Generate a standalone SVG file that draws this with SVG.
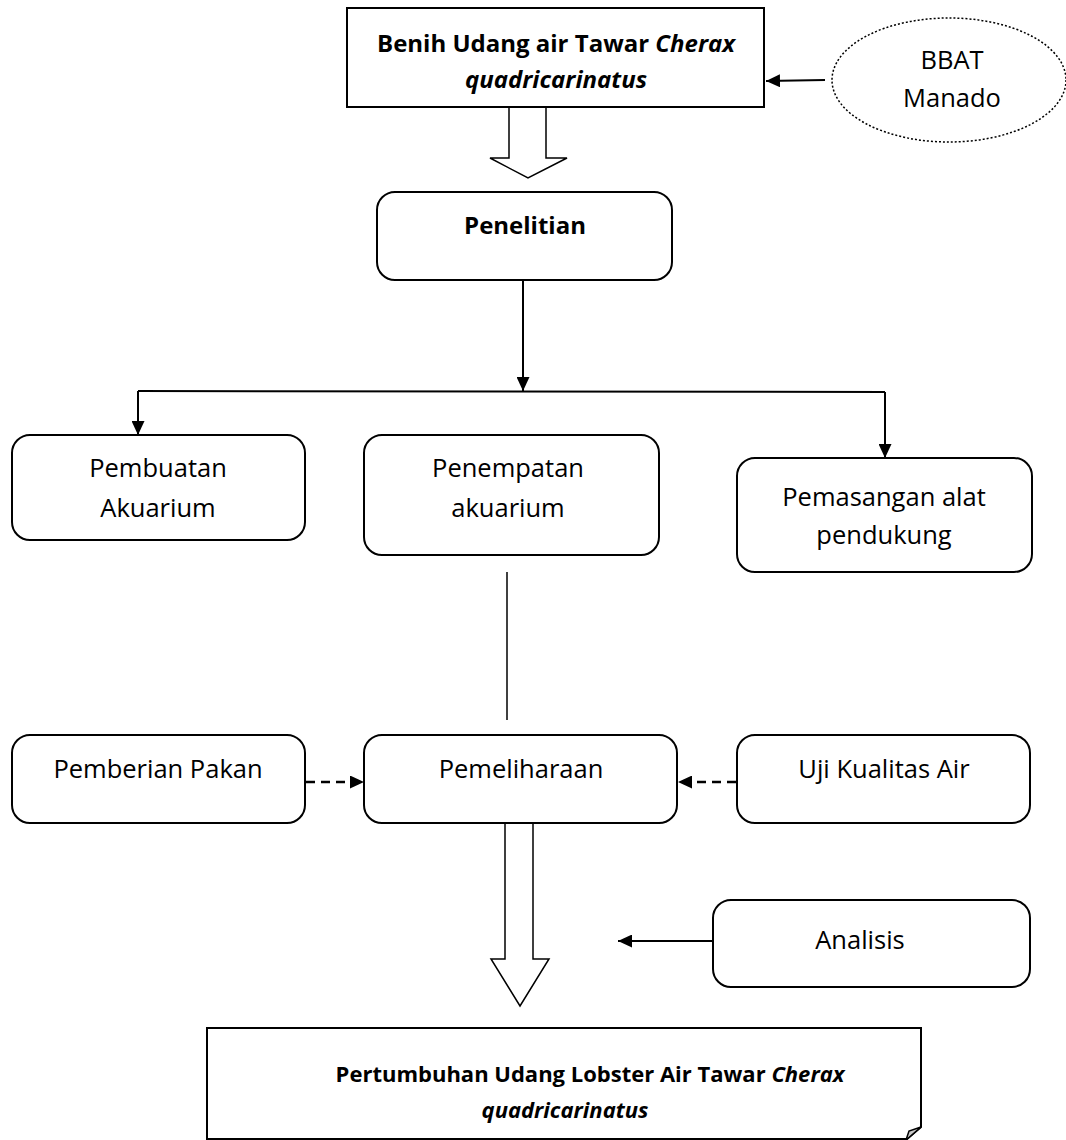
<svg xmlns="http://www.w3.org/2000/svg" width="1066" height="1140" viewBox="0 0 1066 1140">
<style>
.box{fill:#fff;stroke:#000;stroke-width:2}
.t{font-family:"Open Sans","Liberation Sans",sans-serif;font-size:25.5px;fill:#000;text-anchor:middle}
.b{font-weight:bold;font-size:24px}
.sm{font-size:22px}
.i{font-style:italic}
.ln{fill:none;stroke:#000;stroke-width:2}
.dash{fill:none;stroke:#000;stroke-width:2.5;stroke-dasharray:9 6}
.blk{fill:#fff;stroke:#000;stroke-width:1.5}
</style>
<defs>
<marker id="ah" markerUnits="userSpaceOnUse" markerWidth="15" markerHeight="13" refX="14" refY="6.5" orient="auto">
<path d="M0,0 L14,6.5 L0,13 Z" fill="#000"/>
</marker>
</defs>
<rect width="1066" height="1140" fill="#fff"/>

<g id="connectors">
<line class="ln" x1="825" y1="80" x2="766" y2="81" marker-end="url(#ah)"/>
<polygon class="blk" points="509,107 509,158 490,158 528,178 567,158 546,158 546,107"/>
<line class="ln" x1="523" y1="280" x2="523" y2="391" marker-end="url(#ah)"/>
<line class="ln" x1="138" y1="391" x2="885" y2="392"/>
<line class="ln" x1="138" y1="391" x2="138" y2="435" marker-end="url(#ah)"/>
<line class="ln" x1="885" y1="392" x2="885" y2="458" marker-end="url(#ah)"/>
<line x1="507" y1="572" x2="507" y2="720" stroke="#000" stroke-width="1.5"/>
<line class="dash" x1="306" y1="782" x2="364" y2="782" marker-end="url(#ah)"/>
<line class="dash" x1="736" y1="782" x2="678" y2="782" marker-end="url(#ah)"/>
<polygon class="blk" points="505,823 505,959 491,959 520,1006 549,959 533,959 533,823"/>
<line class="ln" x1="713" y1="941" x2="618" y2="941" marker-end="url(#ah)"/>
</g>

<g id="benih">
<rect class="box" x="347" y="8" width="417" height="99"/>
<text class="t b" x="556" y="52">Benih Udang air Tawar <tspan class="i">Cherax</tspan></text>
<text class="t b i" x="556" y="88">quadricarinatus</text>
</g>

<g id="bbat">
<ellipse cx="949" cy="80" rx="117" ry="62" fill="#fff" stroke="#000" stroke-width="1.5" stroke-dasharray="2 2"/>
<text class="t" x="952" y="69">BBAT</text>
<text class="t" x="952" y="107">Manado</text>
</g>

<g id="penelitian">
<rect class="box" x="377" y="192" width="295" height="88" rx="18"/>
<text class="t b" x="525" y="234">Penelitian</text>
</g>

<g id="pembuatan">
<rect class="box" x="12" y="435" width="293" height="105" rx="18"/>
<text class="t" x="158" y="477">Pembuatan</text>
<text class="t" x="158" y="517">Akuarium</text>
</g>

<g id="penempatan">
<rect class="box" x="364" y="435" width="295" height="120" rx="18"/>
<text class="t" x="508" y="477">Penempatan</text>
<text class="t" x="508" y="517">akuarium</text>
</g>

<g id="pemasangan">
<rect class="box" x="737" y="458" width="295" height="114" rx="18"/>
<text class="t" x="884" y="506">Pemasangan alat</text>
<text class="t" x="884" y="544">pendukung</text>
</g>

<g id="pemberian">
<rect class="box" x="12" y="735" width="293" height="88" rx="18"/>
<text class="t" x="158" y="778">Pemberian Pakan</text>
</g>

<g id="pemeliharaan">
<rect class="box" x="364" y="735" width="313" height="88" rx="18"/>
<text class="t" x="521" y="778">Pemeliharaan</text>
</g>

<g id="uji">
<rect class="box" x="737" y="735" width="293" height="88" rx="18"/>
<text class="t" x="884" y="778">Uji Kualitas Air</text>
</g>

<g id="analisis">
<rect class="box" x="713" y="900" width="317" height="87" rx="18"/>
<text class="t" x="860" y="949">Analisis</text>
</g>

<g id="pertumbuhan">
<path class="box" d="M207,1028 H921 V1127 L907,1139 H207 Z"/>
<path d="M921,1127 L909,1131 L906,1140 Z" fill="#c8c8c8" stroke="#000" stroke-width="1.5"/>
<text class="t b sm" x="590" y="1082">Pertumbuhan Udang Lobster Air Tawar <tspan class="i">Cherax</tspan></text>
<text class="t b i sm" x="565" y="1118">quadricarinatus</text>
</g>
</svg>
